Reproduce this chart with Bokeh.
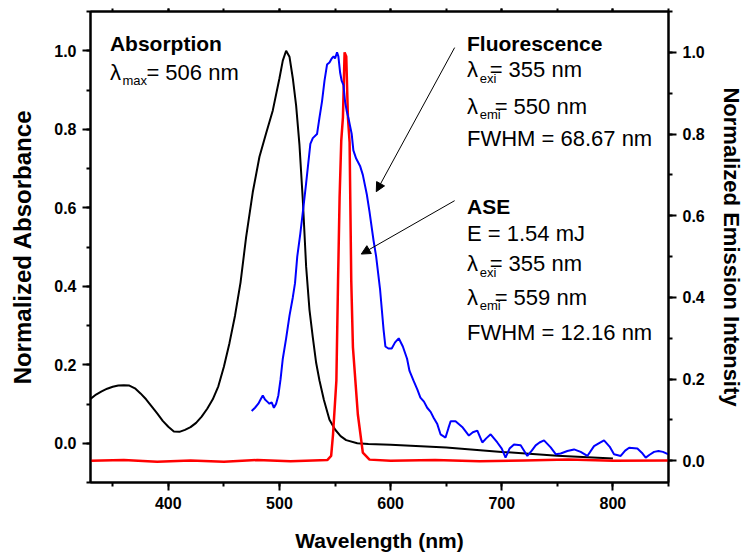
from bokeh.plotting import figure
from bokeh.models import (Range1d, LinearAxis, SingleIntervalTicker, PrintfTickFormatter,
                          CustomJSTickFormatter, Label, Arrow, NormalHead)
from bokeh.embed import file_html
from bokeh.resources import INLINE

# ---------------- data ----------------
abs_wl = [330, 335, 340, 345, 350, 355, 360, 365, 370, 375, 380, 385, 390, 395, 400,
          405, 410, 415, 420, 425, 430, 435, 440, 445, 450, 455, 460, 465, 470, 476,
          482, 488, 494, 500, 503, 506, 509, 512, 515, 518, 521, 524, 527, 530, 533,
          536, 540, 545, 550, 555, 560, 570, 580, 600, 650, 700, 750, 800]
abs_val = [0.113, 0.124, 0.132, 0.139, 0.144, 0.147, 0.148, 0.147, 0.140, 0.127, 0.112,
           0.094, 0.076, 0.057, 0.042, 0.030, 0.029, 0.034, 0.041, 0.052, 0.068, 0.088,
           0.112, 0.145, 0.195, 0.255, 0.325, 0.410, 0.525, 0.640, 0.730, 0.790, 0.848,
           0.930, 0.975, 1.000, 0.985, 0.930, 0.860, 0.760, 0.620, 0.450, 0.340, 0.270,
           0.205, 0.160, 0.110, 0.060, 0.035, 0.018, 0.008, 0.000, -0.002, -0.004,
           -0.011, -0.022, -0.032, -0.039]

fl_wl = [475, 478, 481, 483, 485, 487, 489, 491, 493, 495, 497, 499, 501, 503, 506,
         509, 512, 514, 516, 518.7, 521.5, 524, 527.8, 530, 533.8, 536, 538.3, 540.5,
         542.8, 545, 547, 548.7, 550, 551.8, 553, 554.6, 556, 557.6, 559, 560.6, 562,
         563.5, 565, 566.5, 569, 572.5, 575, 578.6, 581, 584.6, 587, 590.5, 593.7,
         595.3, 598, 601, 604, 607.3, 611, 614.8, 617, 620.8, 624, 626.8, 630, 632.9,
         636, 638.8, 642, 644.9, 649.4, 652, 654, 658.4, 664.4, 670.4, 674, 678, 682.5,
         686, 690, 696, 700, 703.4, 707, 711, 717, 723, 727, 730.5, 734, 738, 744,
         748.7, 753, 759, 765, 771, 777, 783, 788, 792, 797, 801, 807, 811, 814.6,
         822, 826, 829.5, 833, 837, 841, 845, 850]
fl_val = [0.122, 0.130, 0.140, 0.150, 0.160, 0.150, 0.145, 0.140, 0.143, 0.130, 0.140,
          0.160, 0.200, 0.250, 0.300, 0.355, 0.400, 0.435, 0.500, 0.555, 0.620, 0.680,
          0.776, 0.790, 0.800, 0.840, 0.880, 0.930, 0.970, 0.975, 0.985, 0.990, 0.985,
          1.000, 0.990, 0.950, 0.930, 0.920, 0.880, 0.855, 0.840, 0.820, 0.800, 0.760,
          0.740, 0.722, 0.700, 0.652, 0.610, 0.540, 0.500, 0.420, 0.320, 0.280, 0.275,
          0.275, 0.290, 0.300, 0.280, 0.250, 0.220, 0.195, 0.175, 0.155, 0.145, 0.130,
          0.120, 0.105, 0.090, 0.065, 0.057, 0.080, 0.097, 0.097, 0.083, 0.062, 0.070,
          0.074, 0.045, 0.055, 0.065, 0.045, 0.030, 0.008, 0.030, 0.040, 0.038, 0.012,
          0.025, 0.038, 0.045, 0.050, 0.033, 0.016, 0.018, 0.024, 0.028, 0.022, 0.012,
          0.036, 0.044, 0.050, 0.035, 0.016, 0.012, 0.025, 0.032, 0.030, 0.020, 0.008,
          0.015, 0.022, 0.024, 0.022, 0.016]

ase_wl = [330, 360, 390, 420, 450, 480, 510, 530, 543, 546.5, 548.2, 551.2, 552.7,
          554.1, 555.6, 557.1, 558.6, 560.1, 561.6, 563.1, 564.6, 566.1, 570.5, 575,
          581, 600, 640, 680, 720, 760, 800, 850]
ase_val = [0.000, 0.002, -0.002, 0.001, -0.002, 0.002, -0.001, 0.001, 0.002, 0.012,
           0.065, 0.196, 0.440, 0.645, 0.784, 0.841, 1.000, 0.990, 0.840, 0.780, 0.440,
           0.278, 0.114, 0.020, 0.003, 0.000, 0.002, -0.001, 0.001, 0.003, 0.000, 0.001]

x_label = "Wavelength (nm)"
y_left_label = "Normalized Absorbance"
y_right_label = "Normalized Emission Intensity"

FONT = "Liberation Sans"

p = figure(frame_width=578, frame_height=471,
           x_range=Range1d(330, 850), y_range=Range1d(-0.1, 1.1),
           output_backend="svg", toolbar_location=None,
           min_border_left=90, min_border_right=76, min_border_top=11, min_border_bottom=74)
p.extra_y_ranges = {"em": Range1d(-0.053, 1.1)}

p.xgrid.visible = False
p.ygrid.visible = False
p.outline_line_color = "black"
p.outline_line_width = 2
p.background_fill_color = "white"
p.border_fill_color = "white"


def style_axis(ax):
    ax.axis_line_width = 2
    ax.axis_line_color = "black"
    ax.major_tick_line_width = 2
    ax.minor_tick_line_width = 2
    ax.major_tick_in = 0
    ax.minor_tick_in = 0
    ax.major_tick_out = 8
    ax.minor_tick_out = 4
    ax.major_label_text_font = FONT
    ax.major_label_text_font_style = "bold"
    ax.major_label_text_font_size = "16px"
    ax.major_label_text_color = "black"
    ax.major_label_standoff = 6
    ax.axis_label_text_font = FONT
    ax.axis_label_text_font_style = "bold"
    ax.axis_label_text_color = "black"


xb = p.xaxis[0]
style_axis(xb)
xb.ticker = SingleIntervalTicker(interval=100, num_minor_ticks=2)
xb.axis_label = x_label
xb.axis_label_text_font_size = "21px"
xb.axis_label_standoff = 17
xb.major_label_standoff = 6

yl = p.yaxis[0]
style_axis(yl)
yl.ticker = SingleIntervalTicker(interval=0.2, num_minor_ticks=2)
yl.formatter = PrintfTickFormatter(format="%.1f")
yl.axis_label = y_left_label
yl.axis_label_text_font_size = "24px"
yl.axis_label_standoff = 15

yr = LinearAxis(y_range_name="em")
style_axis(yr)
yr.ticker = SingleIntervalTicker(interval=0.2, num_minor_ticks=2)
yr.formatter = PrintfTickFormatter(format="%.1f")
yr.axis_label = y_right_label
yr.axis_label_text_font_size = "22px"
yr.axis_label_standoff = 11
yr.major_label_standoff = 6
p.add_layout(yr, "right")

xt = LinearAxis()
style_axis(xt)
xt.ticker = SingleIntervalTicker(interval=100, num_minor_ticks=2)
xt.major_tick_out = 3
xt.minor_tick_out = 3
xt.formatter = CustomJSTickFormatter(code="return ''")
xt.major_label_standoff = 0
p.add_layout(xt, "above")

# ---------------- curves ----------------
p.line(abs_wl, abs_val, line_color="black", line_width=2)
p.line(ase_wl, ase_val, line_color="#ff0000", line_width=2.5, y_range_name="em")
p.line(fl_wl, fl_val, line_color="#0000ff", line_width=2, y_range_name="em")

# ---------------- annotations ----------------
def lab(x, y, text, size="22px", bold=False):
    p.add_layout(Label(x=x, y=y, text=text, text_font=FONT, text_font_size=size,
                       text_font_style="bold" if bold else "normal",
                       text_color="black", text_align="left",
                       text_baseline="alphabetic"))


def lam_line(x, y, sub, rest, x_sub, x_rest):
    lab(x, y, "\u03bb")
    lab(x_sub, y - 0.021, sub, size="13px")
    lab(x_rest, y, rest)


lab(347.5, 1.018, "Absorption", size="21px", bold=True)
lam_line(347.5, 0.944, "max", "= 506 nm", 358.8, 380.3)

lab(668.7, 1.018, "Fluorescence", size="21px", bold=True)
lam_line(668.7, 0.951, "exi", "= 355 nm", 680.1, 689.1)
lam_line(668.7, 0.859, "emi", "= 550 nm", 680.1, 693.6)
lab(668.7, 0.7755, "FWHM = 68.67 nm")

lab(668.7, 0.603, "ASE", size="21px", bold=True)
lab(668.7, 0.534, "E = 1.54 mJ")
lam_line(668.7, 0.457, "exi", "= 355 nm", 680.1, 689.1)
lam_line(668.7, 0.371, "emi", "= 559 nm", 680.1, 693.6)
lab(668.7, 0.283, "FWHM = 12.16 nm")

p.add_layout(Arrow(end=NormalHead(size=9, fill_color="black", line_color="black"),
                   x_start=657.6, y_start=1.008, x_end=587.1, y_end=0.641,
                   line_width=1, line_color="black"))
p.add_layout(Arrow(end=NormalHead(size=9, fill_color="black", line_color="black"),
                   x_start=657.6, y_start=0.618, x_end=573.6, y_end=0.482,
                   line_width=1, line_color="black"))

open("out.html", "w").write(file_html(p, INLINE))
